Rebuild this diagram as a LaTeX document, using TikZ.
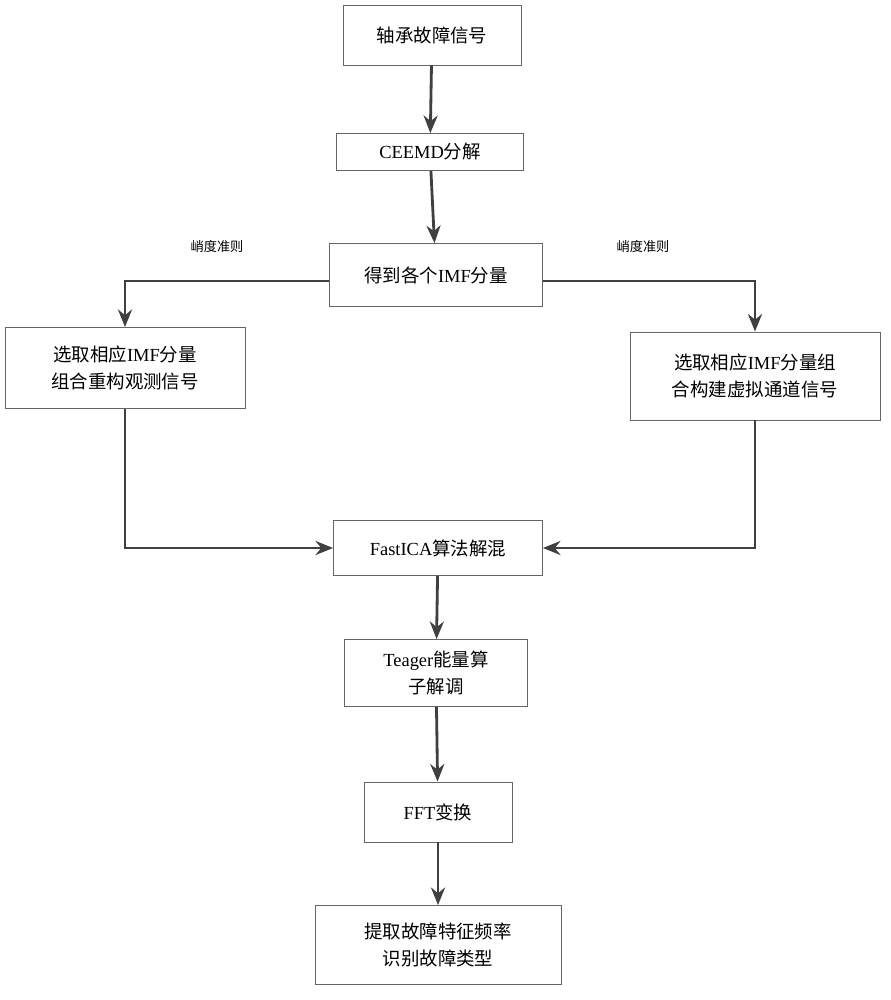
\documentclass[tikz,border=0pt]{standalone}
\usepackage{fontspec}
\setmainfont{Liberation Serif}
\newfontfamily\zh{Noto Sans CJK SC}
\usetikzlibrary{arrows.meta,positioning}
\tikzset{box/.style={draw=black!60,line width=0.5pt,align=center,inner sep=2pt,
  font=\fontsize{10.5}{15}\selectfont},
  arrow/.style={draw=black!75,line width=1.6pt,-{Stealth[length=10pt,width=8pt]}},
  lbl/.style={font=\fontsize{7.5}{9}\selectfont}}
\begin{document}
\begin{tikzpicture}[x=0.02cm,y=-0.02cm]
  \useasboundingbox (0,0) rectangle (891,1000);
  % nodes
  \node[box,minimum width=3.56cm,minimum height=1.2cm] (sig) at (432,35) {{\zh 轴承故障信号}};
  \node[box,minimum width=3.74cm,minimum height=0.74cm] (ceemd) at (430,152) {CEEMD{\zh 分解}};
  \node[box,minimum width=4.26cm,minimum height=1.26cm] (imf) at (436,275) {{\zh 得到各个}IMF{\zh 分量}};
  \node[box,minimum width=4.8cm,minimum height=1.62cm] (left) at (125,368) {{\zh 选取相应}IMF{\zh 分量}\\{\zh 组合重构观测信号}};
  \node[box,minimum width=5cm,minimum height=1.76cm] (right) at (755,376) {{\zh 选取相应}IMF{\zh 分量组}\\{\zh 合构建虚拟通道信号}};
  \node[box,minimum width=4.18cm,minimum height=1.1cm] (ica) at (438,548) {FastICA{\zh 算法解混}};
  \node[box,minimum width=3.66cm,minimum height=1.34cm] (teo) at (436,673) {Teager{\zh 能量算}\\{\zh 子解调}};
  \node[box,minimum width=2.96cm,minimum height=1.2cm] (fft) at (438,812) {FFT{\zh 变换}};
  \node[box,minimum width=4.92cm,minimum height=1.58cm] (out) at (438,945) {{\zh 提取故障特征频率}\\{\zh 识别故障类型}};
  % connectors
  \draw[arrow] (sig) -- (ceemd);
  \draw[arrow] (ceemd) -- (imf);
  \draw[arrow] (imf.west |- 0,281) -| (left.north);
  \draw[arrow] (imf.east |- 0,281) -| (right.north);
  \draw[arrow] (left.south) |- (ica.west);
  \draw[arrow] (right.south) |- (ica.east);
  \draw[arrow] (ica) -- (teo);
  \draw[arrow] (teo) -- (fft);
  \draw[arrow] (fft) -- (out);
  \node[lbl] (k1) at (217,246) {{\zh 峭度准则}};
  \node[lbl] (k2) at (643,246) {{\zh 峭度准则}};
\end{tikzpicture}
\end{document}
